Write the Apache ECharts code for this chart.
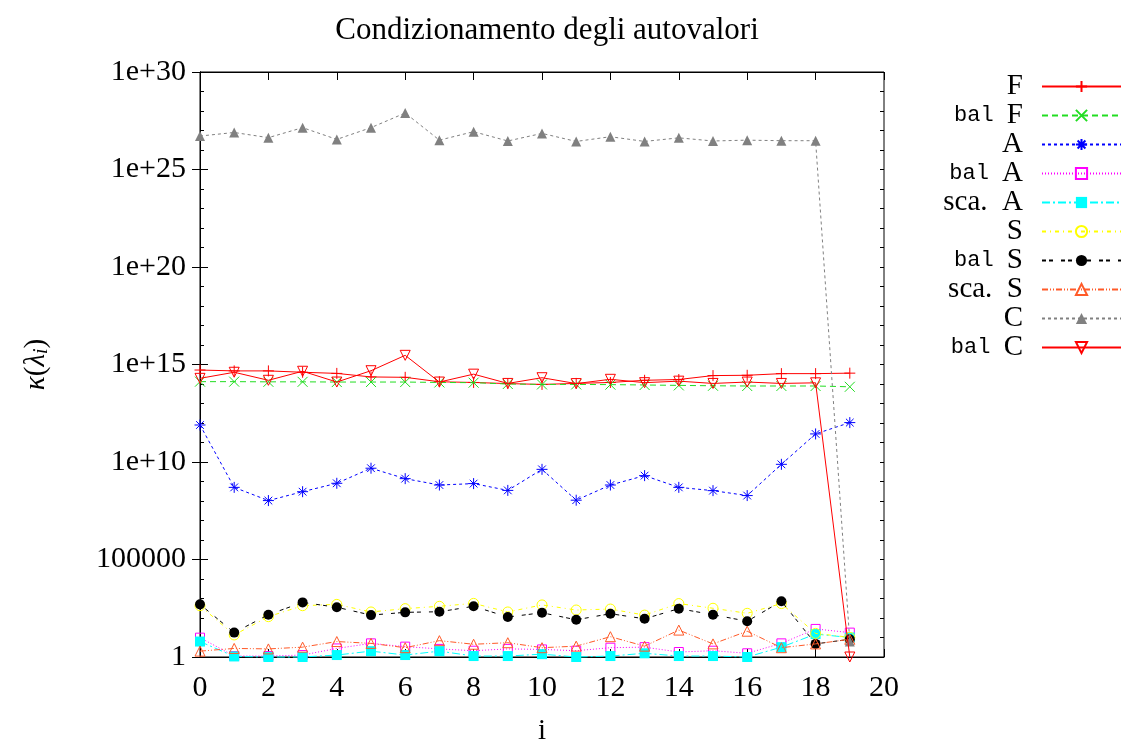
<!DOCTYPE html>
<html><head><meta charset="utf-8">
<script src="https://cdn.jsdelivr.net/npm/echarts@6/dist/echarts.min.js"></script>
<style>html,body{margin:0;padding:0;background:#fff}#c{width:1126px;height:743px}</style>
</head><body><div id="c"></div>
<script>
// ---- data ----
const xs = [0,1,2,3,4,5,6,7,8,9,10,11,12,13,14,15,16,17,18,19];
const seriesNames = ['F','bal F','A','bal A','sca. A','S','bal S','sca. S','C','bal C'];
const valF    = [5.2e14,4.7e14,4.7e14,4.0e14,3.5e14,2.3e14,2.2e14,1.3e14,1.2e14,1.05e14,9.5e13,1.07e14,1.2e14,1.55e14,1.7e14,2.7e14,2.8e14,3.4e14,3.4e14,3.6e14];
const valBalF = [1.32e14,1.32e14,1.29e14,1.29e14,1.26e14,1.26e14,1.26e14,1.2e14,1.17e14,1.0e14,9.5e13,9.5e13,9.3e13,8.9e13,8.5e13,8.1e13,7.9e13,7.9e13,7.9e13,7.2e13];
const valA    = [7.9e11,5.0e8,1.05e8,3.0e8,8.1e8,4.8e9,1.4e9,6.6e8,7.8e8,3.5e8,4.2e9,1.1e8,6.6e8,2.0e9,5.0e8,3.4e8,1.9e8,7.6e9,2.75e11,1.05e12];
const valBalA = [9.8,1.12,1.12,1.26,2.75,5.0,3.4,2.6,2.1,2.6,2.45,2.1,3.0,3.2,1.8,2.1,1.55,5.0,27.5,17.8];
const valScaA = [6.2,1.07,1,1,1.26,2.0,1.26,2.0,1.12,1.12,1.4,1,1.12,1.55,1.12,1.12,1,3.2,15,10];
const valS    = [427,13.5,117,427,500,204,302,398,562,204,468,257,288,141,550,316,174,550,16.2,10.2];
const valBalS = [500,17.8,148,631,355,141,195,209,398,112,186,81,166,91,302,148,68,724,4.7,8.1];
const valScaS = [2.0,2.75,2.6,3.2,6.2,5.0,3.0,6.9,4.5,5.4,3.0,3.6,11,3.6,24,4.7,21,3.0,4.7,8.1];
const valC    = [5.2e26,7.9e26,4.3e26,1.4e27,3.5e26,1.4e27,7.9e27,3.2e26,8.7e26,2.9e26,7.1e26,2.75e26,4.8e26,2.75e26,4.2e26,2.9e26,3.2e26,3.0e26,3.0e26,6.3];
const valBalC = [1.95e14,4.0e14,1.55e14,4.5e14,1.26e14,4.8e14,2.95e15,1.26e14,3.2e14,1.07e14,2.1e14,1.05e14,1.74e14,1.17e14,1.4e14,1.07e14,1.26e14,1.07e14,1.15e14,1];
const xTickLabels = ['0','2','4','6','8','10','12','14','16','18','20'];
const yTickLabels = {0:'1',5:'100000',10:'1e+10',15:'1e+15',20:'1e+20',25:'1e+25',30:'1e+30'};
const titleText = 'Condizionamento degli autovalori';

// ---- styles ----
const SERIF = 'Liberation Serif';
const MONO = 'Liberation Mono';
const P_PLUS = 'path://M0,5L10,5M5,0L5,10';
const P_CROSS = 'path://M0,0L10,10M0,10L10,0';
const P_STAR = 'path://M0,5L10,5M5,0L5,10M1.5,1.5L8.5,8.5M1.5,8.5L8.5,1.5';
const styles = [
  {v: valF,    color:'#ff0000', dash:'solid',          sym:P_PLUS,     size:11, fill:false},
  {v: valBalF, color:'#22dd22', dash:[6,4],            sym:P_CROSS,    size:10, fill:false},
  {v: valA,    color:'#0000ff', dash:[3,3],            sym:P_STAR,     size:11, fill:false},
  {v: valBalA, color:'#ff00ff', dash:[1,2],            sym:'rect',     size:9,  fill:false},
  {v: valScaA, color:'#00ffff', dash:[8,3,2,3],        sym:'rect',     size:10, fill:true},
  {v: valS,    color:'#ffff00', dash:[4,4,1,4],        sym:'circle',   size:10, fill:false},
  {v: valBalS, color:'#000000', dash:[4,3,4,8],        sym:'circle',   size:10, fill:true},
  {v: valScaS, color:'#ff5a28', dash:[6,2,1,2,1,2],    sym:'triangle', size:10, fill:false},
  {v: valC,    color:'#808080', dash:[3,3],            sym:'triangle', size:10, fill:true},
  {v: valBalC, color:'#ff0000', dash:'solid',          sym:'triangle', size:10, fill:false, rot:180}
];

const series = seriesNames.map((name, k) => {
  const s = styles[k];
  const isPath = s.sym.startsWith('path://');
  return {
    name: name,
    type: 'line',
    xAxisIndex: 0, yAxisIndex: 0,
    data: xs.map((x, i) => [x, s.v[i]]),
    symbol: s.sym,
    symbolSize: s.size,
    symbolRotate: s.rot || 0,
    showAllSymbol: true,
    clip: false,
    lineStyle: {color: s.color, width: 1, type: s.dash},
    itemStyle: {
      color: (s.fill || isPath) ? s.color : 'rgba(0,0,0,0)',
      borderColor: s.color,
      borderWidth: s.fill ? 0 : 1
    },
    emphasis: {disabled: true},
    z: 2 + k
  };
});

const chart = echarts.init(document.getElementById('c'), null, {renderer: 'canvas'});
const baseY = {type: 'log', logBase: 10, min: 1, max: 1e30, splitLine: {show: false}};
chart.setOption({
  animation: false,
  backgroundColor: '#ffffff',
  title: {
    text: titleText, left: 542, top: 10, textAlign: 'center',
    textStyle: {fontFamily: SERIF, fontSize: 31, fontWeight: 'normal', color: '#000'}
  },
  grid: {left: 200, right: 242, top: 72, bottom: 86, show: true, borderColor: '#000', borderWidth: 1,
         outerBoundsMode: 'none', containLabel: false},
  legend: {
    orient: 'vertical', align: 'right', right: 4, top: 72, padding: 0,
    itemWidth: 79, itemHeight: 14, itemGap: 0,
    data: seriesNames,
    formatter: function (name) {
      if (name.startsWith('bal ')) return '{m|bal }{s|' + name.slice(4) + '}';
      return '{s|' + name.replace(' ', '  ') + '}';
    },
    textStyle: {
      color: '#000', padding: [0, 14, 0, 0],
      rich: {
        m: {fontFamily: MONO, fontSize: 22, color: '#000'},
        s: {fontFamily: SERIF, fontSize: 29, color: '#000'}
      }
    }
  },
  xAxis: [
    {
      type: 'value', min: 0, max: 20, interval: 2, position: 'bottom',
      name: 'i', nameLocation: 'middle', nameGap: 60,
      nameTextStyle: {fontFamily: SERIF, fontSize: 29, color: '#000'},
      axisLine: {lineStyle: {color: '#000', width: 1}},
      axisTick: {inside: true, length: 8, lineStyle: {color: '#000'}},
      axisLabel: {
        margin: 16, fontFamily: SERIF, fontSize: 30, color: '#000',
        formatter: v => xTickLabels[Math.round(v / 2)]
      },
      splitLine: {show: false}
    },
    {
      type: 'value', min: 0, max: 20, interval: 2, position: 'top',
      axisLine: {lineStyle: {color: '#000', width: 1}},
      axisTick: {inside: true, length: 8, lineStyle: {color: '#000'}},
      axisLabel: {show: false}, splitLine: {show: false}
    }
  ],
  yAxis: [
    Object.assign({}, baseY, {
      position: 'left', interval: 5,
      name: '{i|κ}{n|(}{i|λ}{sub|i}{n|)}', nameLocation: 'middle', nameGap: 148,
      nameTextStyle: {
        color: '#000',
        rich: {
          i: {fontFamily: SERIF, fontStyle: 'italic', fontSize: 29, color: '#000'},
          n: {fontFamily: SERIF, fontSize: 29, color: '#000'},
          sub: {fontFamily: SERIF, fontStyle: 'italic', fontSize: 20, color: '#000', verticalAlign: 'bottom', padding: [12, 0, 0, 0]}
        }
      },
      axisLine: {lineStyle: {color: '#000', width: 1}},
      axisTick: {inside: true, length: 8, lineStyle: {color: '#000'}},
      axisLabel: {
        margin: 14, fontFamily: SERIF, fontSize: 30, color: '#000',
        formatter: v => yTickLabels[Math.round(Math.log10(v))] || ''
      }
    }),
    Object.assign({}, baseY, {
      position: 'right', interval: 5,
      axisLine: {lineStyle: {color: '#000', width: 1}},
      axisTick: {inside: true, length: 8, lineStyle: {color: '#000'}},
      axisLabel: {show: false}
    }),
    Object.assign({}, baseY, {
      position: 'right', interval: 1,
      axisLine: {show: false},
      axisTick: {inside: true, length: 4, lineStyle: {color: '#000'}},
      axisLabel: {show: false}
    }),
    Object.assign({}, baseY, {
      position: 'left', interval: 1,
      axisLine: {show: false},
      axisTick: {inside: true, length: 4, lineStyle: {color: '#000'}},
      axisLabel: {show: false}
    })
  ],
  series: series
});
</script>
</body></html>
